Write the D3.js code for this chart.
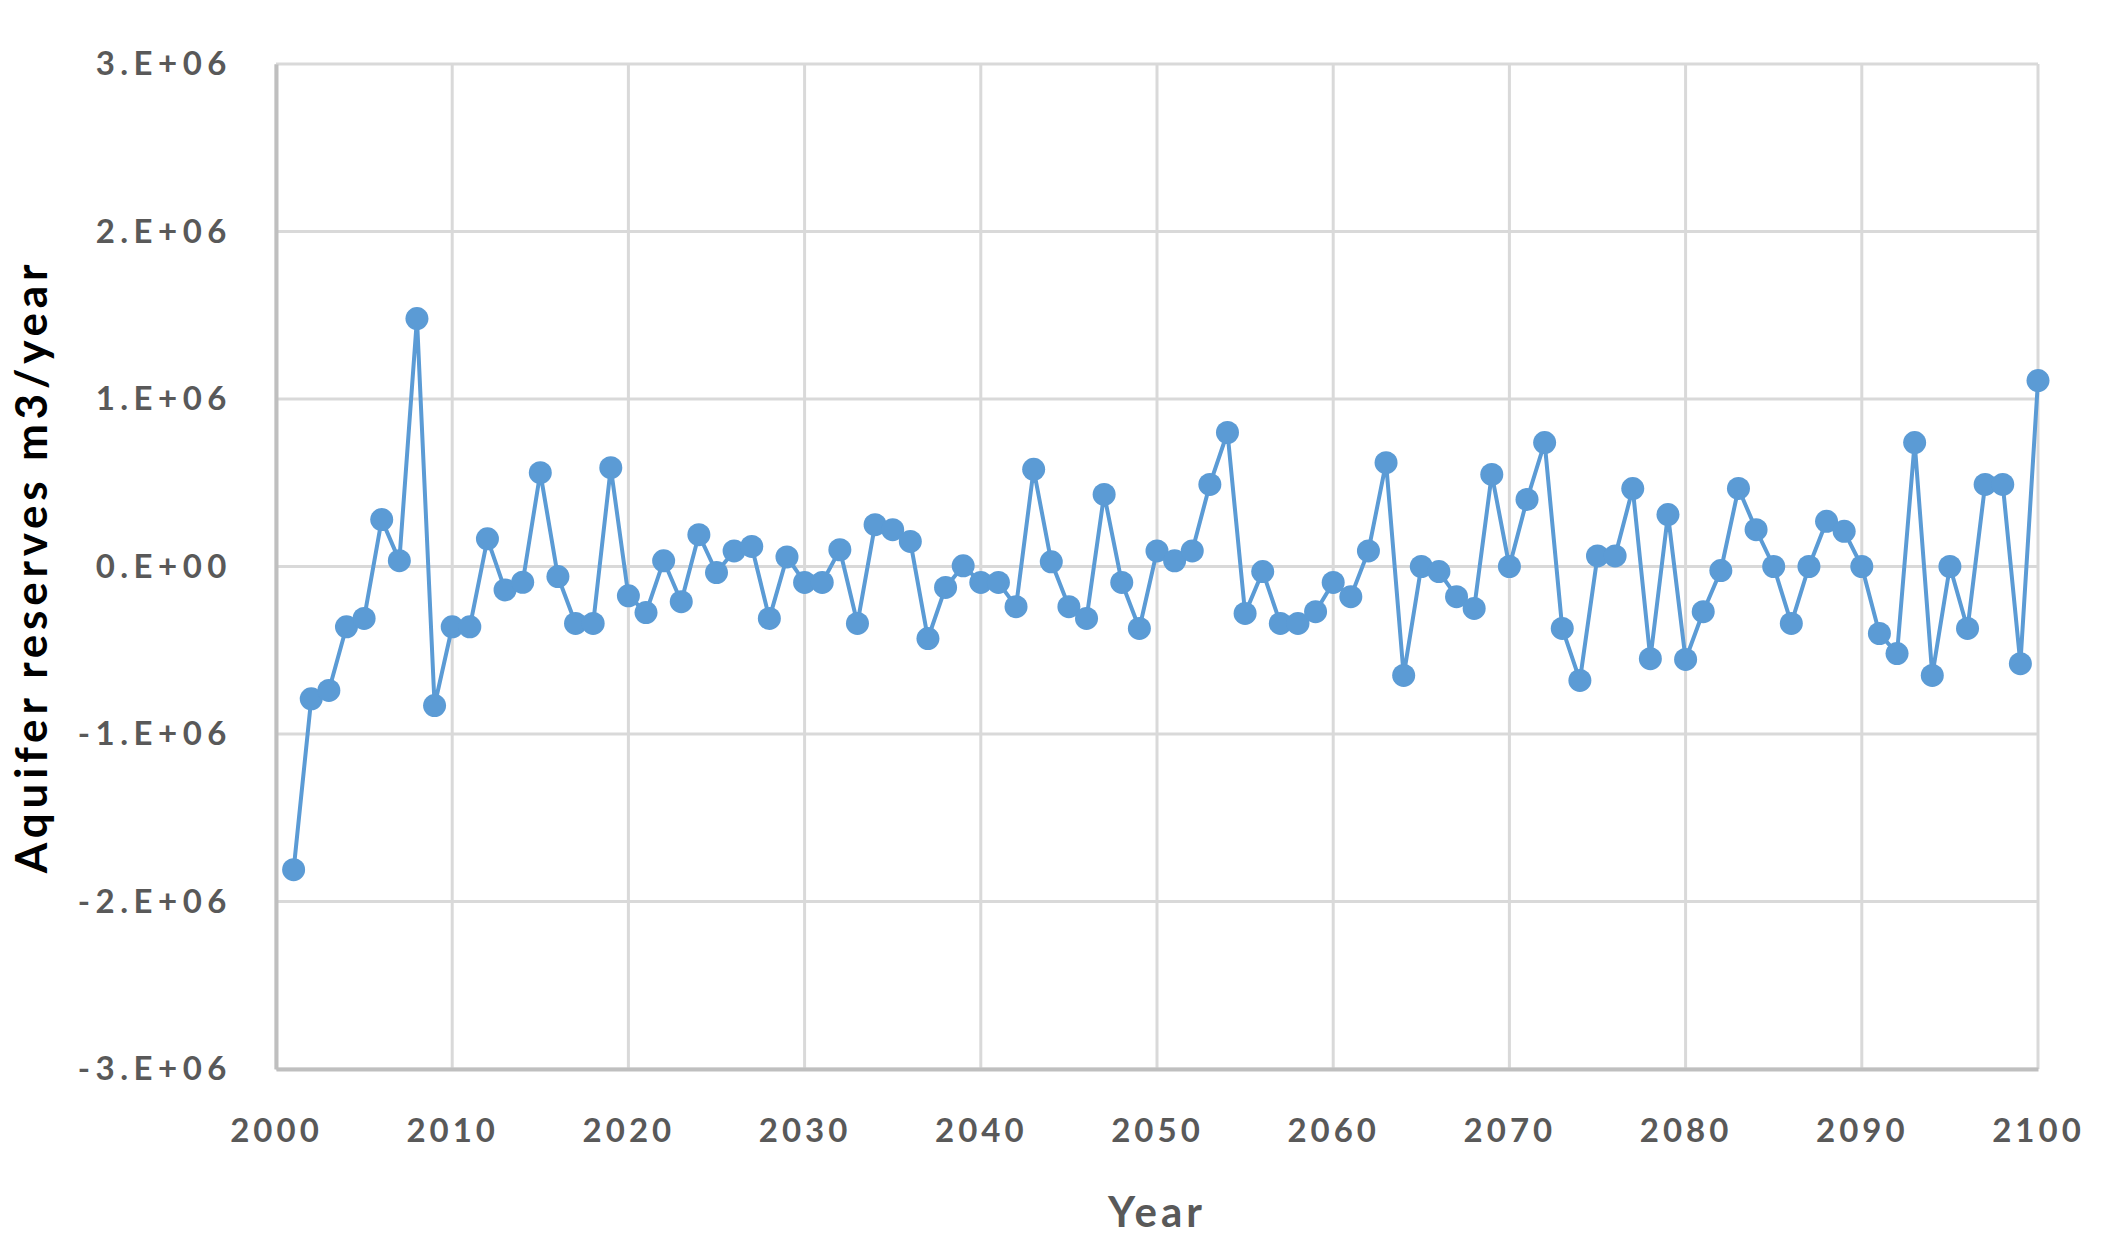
<!DOCTYPE html>
<html>
<head>
<meta charset="utf-8">
<script src="https://cdn.jsdelivr.net/npm/d3@7"></script>
<style>
  html, body { margin: 0; padding: 0; background: #fff; }
  svg { display: block; }
</style>
</head>
<body>
<div id="chart"></div>
<script>
// Years on the x axis
var years = [
  2001, 2002, 2003, 2004, 2005, 2006, 2007, 2008, 2009, 2010,
  2011, 2012, 2013, 2014, 2015, 2016, 2017, 2018, 2019, 2020,
  2021, 2022, 2023, 2024, 2025, 2026, 2027, 2028, 2029, 2030,
  2031, 2032, 2033, 2034, 2035, 2036, 2037, 2038, 2039, 2040,
  2041, 2042, 2043, 2044, 2045, 2046, 2047, 2048, 2049, 2050,
  2051, 2052, 2053, 2054, 2055, 2056, 2057, 2058, 2059, 2060,
  2061, 2062, 2063, 2064, 2065, 2066, 2067, 2068, 2069, 2070,
  2071, 2072, 2073, 2074, 2075, 2076, 2077, 2078, 2079, 2080,
  2081, 2082, 2083, 2084, 2085, 2086, 2087, 2088, 2089, 2090,
  2091, 2092, 2093, 2094, 2095, 2096, 2097, 2098, 2099, 2100
];

// Aquifer reserves, m3/year
var reserves = [
  -1810000, -790000, -740000, -360000, -310000, 280000, 35000, 1480000, -830000, -360000,
  -360000, 165000, -140000, -94000, 560000, -60000, -340000, -340000, 590000, -175000,
  -275000, 34000, -210000, 190000, -36000, 93000, 120000, -310000, 57000, -95000,
  -95000, 100000, -340000, 250000, 220000, 150000, -430000, -125000, 4000, -95000,
  -95000, -240000, 580000, 28000, -240000, -310000, 430000, -95000, -370000, 93000,
  34000, 93000, 490000, 800000, -280000, -30000, -340000, -340000, -270000, -95000,
  -180000, 93000, 620000, -650000, 0, -30000, -180000, -250000, 550000, 0,
  400000, 740000, -370000, -680000, 63000, 63000, 465000, -550000, 310000, -555000,
  -270000, -24000, 466000, 220000, 0, -340000, 0, 270000, 210000, 0,
  -400000, -520000, 740000, -650000, 0, -370000, 490000, 490000, -580000, 1110000
];

var xTicks = [2000, 2010, 2020, 2030, 2040, 2050, 2060, 2070, 2080, 2090, 2100];
var yTicks = [-3000000, -2000000, -1000000, 0, 1000000, 2000000, 3000000];

var xTitle = "Year";
var yTitle = "Aquifer reserves m3/year";

var W = 2114, H = 1258;
var margin = {top: 64, right: 76, bottom: 189, left: 276};
var iw = W - margin.left - margin.right;
var ih = H - margin.top - margin.bottom;

var blue = "#5b9bd5";
var font = "Lato, 'Open Sans', sans-serif";

var svg = d3.select("#chart").append("svg")
    .attr("width", W)
    .attr("height", H);

var g = svg.append("g")
    .attr("transform", "translate(" + margin.left + "," + margin.top + ")");

var x = d3.scaleLinear().domain([2000, 2100]).range([0, iw]);
var y = d3.scaleLinear().domain([-3000000, 3000000]).range([ih, 0]);

function fmtY(v) {
  if (v === 0) return "0.E+00";
  return (v < 0 ? "-" : "") + Math.abs(v / 1e6) + ".E+06";
}

// gridlines
g.append("g").selectAll("line")
    .data(yTicks)
  .enter().append("line")
    .attr("x1", 0).attr("x2", iw)
    .attr("y1", function(d){ return y(d); })
    .attr("y2", function(d){ return y(d); })
    .attr("stroke", "#d9d9d9")
    .attr("stroke-width", 3);

g.append("g").selectAll("line")
    .data(xTicks)
  .enter().append("line")
    .attr("y1", 0).attr("y2", ih)
    .attr("x1", function(d){ return x(d); })
    .attr("x2", function(d){ return x(d); })
    .attr("stroke", "#d9d9d9")
    .attr("stroke-width", 3);

// axes
var xAxis = g.append("g")
    .attr("transform", "translate(0," + ih + ")")
    .call(d3.axisBottom(x).tickValues(xTicks).tickFormat(d3.format("d")).tickSize(0).tickPadding(50));

var yAxis = g.append("g")
    .call(d3.axisLeft(y).tickValues(yTicks).tickFormat(fmtY).tickSize(0).tickPadding(44));

[xAxis, yAxis].forEach(function(a){
  a.select(".domain").attr("stroke", "#bfbfbf").attr("stroke-width", 4);
  a.selectAll("text")
      .attr("fill", "#595959")
      .style("font-family", font)
      .style("font-weight", "bold")
      .style("font-size", "33px");
});
xAxis.selectAll("text").style("letter-spacing", "4px");
yAxis.selectAll("text").style("letter-spacing", "5.5px");

// line
var line = d3.line()
    .x(function(d, i){ return x(years[i]); })
    .y(function(d){ return y(d); });

g.append("path")
    .datum(reserves)
    .attr("fill", "none")
    .attr("stroke", blue)
    .attr("stroke-width", 4)
    .attr("stroke-linejoin", "round")
    .attr("d", line);

g.append("g").selectAll("circle")
    .data(reserves)
  .enter().append("circle")
    .attr("cx", function(d, i){ return x(years[i]); })
    .attr("cy", function(d){ return y(d); })
    .attr("r", 11.5)
    .attr("fill", blue);

// titles
svg.append("text")
    .attr("x", margin.left + iw / 2)
    .attr("y", 1216)
    .attr("text-anchor", "middle")
    .attr("dominant-baseline", "middle")
    .attr("fill", "#595959")
    .style("font-family", font)
    .style("font-weight", "bold")
    .style("font-size", "42px")
    .style("letter-spacing", "4px")
    .text(xTitle);

svg.append("text")
    .attr("transform", "translate(36," + (margin.top + ih / 2) + ") rotate(-90)")
    .attr("text-anchor", "middle")
    .attr("dominant-baseline", "middle")
    .attr("fill", "#000")
    .style("font-family", font)
    .style("font-weight", "bold")
    .style("font-size", "44px")
    .style("letter-spacing", "4.8px")
    .text(yTitle);
</script>
</body>
</html>
